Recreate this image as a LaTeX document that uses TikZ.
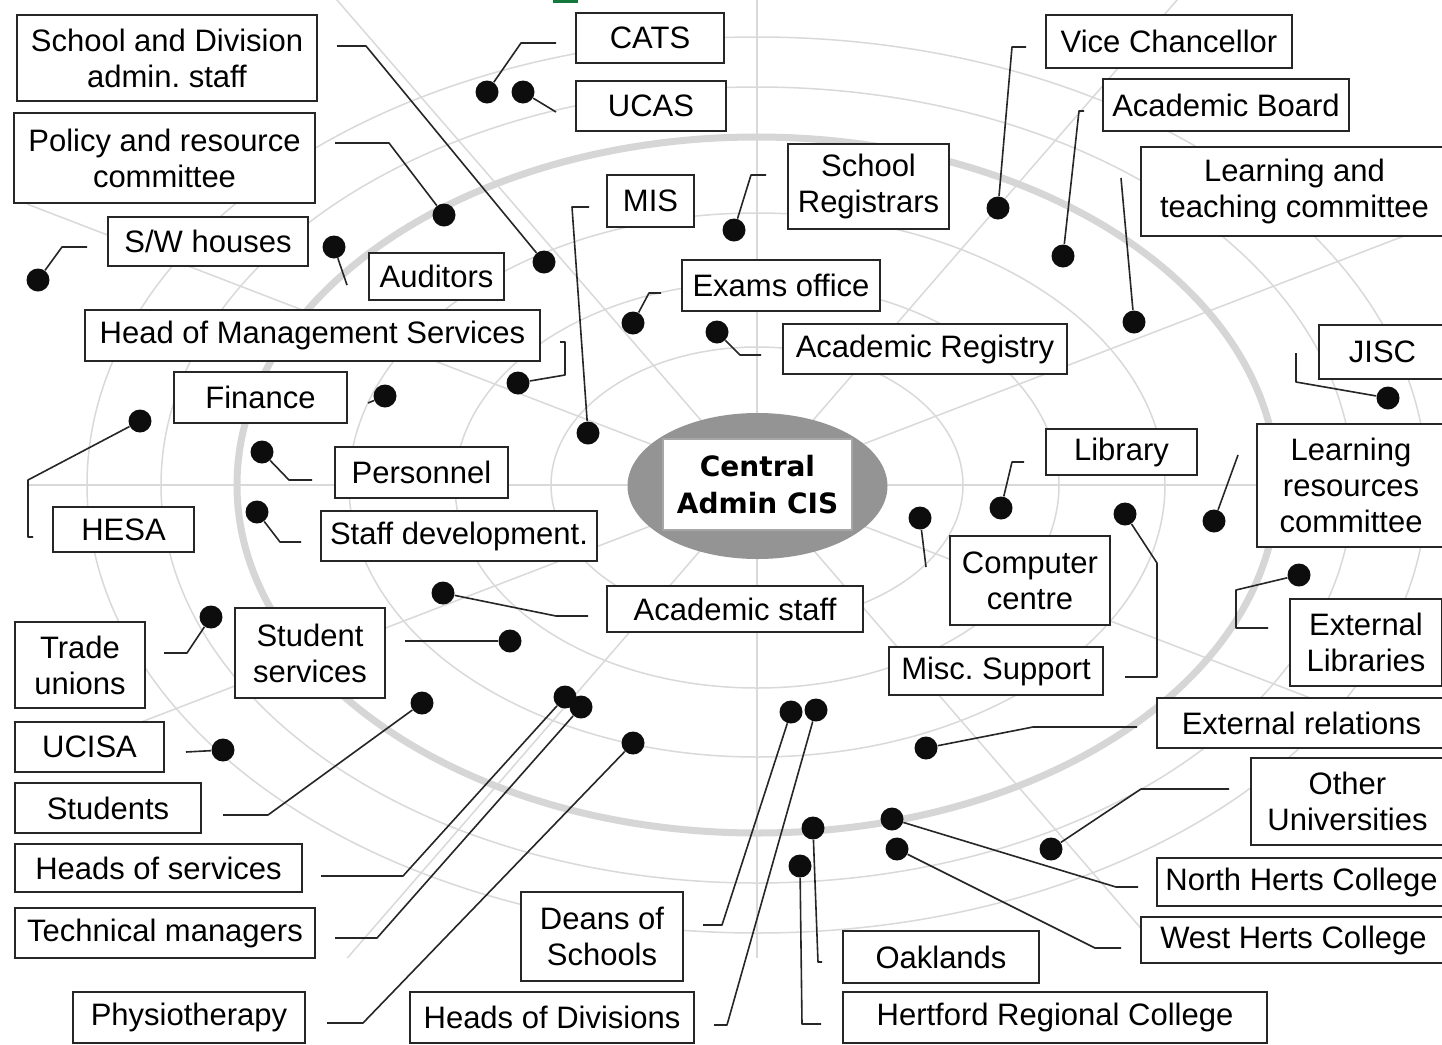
\documentclass[tikz,border=0pt]{standalone}
\usepackage{fontspec}
\setmainfont{Liberation Sans}
\newfontfamily\cisfont{DejaVu Sans}
\usetikzlibrary{shapes.geometric}
\frenchspacing
\definecolor{bgline}{gray}{0.85}
\definecolor{thickring}{gray}{0.84}
\definecolor{conn}{gray}{0.15}
\definecolor{greenmark}{RGB}{20,120,60}
\tikzset{
  bx/.style={draw=black!85, line width=1pt, fill=white, inner sep=0pt, align=center,
             font=\fontsize{15.5}{18}\selectfont},
  dotn/.style={circle, fill=black!95, inner sep=0pt, minimum size=11.5pt},
  conline/.style={draw=conn, line width=0.8pt, line join=round},
  ring/.style={draw=bgline, line width=0.75pt},
  thickrim/.style={draw=thickring, line width=3.5pt},
  radial/.style={draw=bgline, line width=0.75pt},
}
\newcommand\B[6]{\node[bx, minimum width={(#4-#2)*0.5pt}, minimum height={(#5-#3)*0.5pt}] (#1) at ({(#2+#4)/2},{(#3+#5)/2}) {#6};}
\newcommand\D[3]{\node[dotn] (#1) at (#2,#3) {};}
\begin{document}
\begin{tikzpicture}[x=0.5pt,y=-0.5pt]
\useasboundingbox (0,0) rectangle (1442,1045);
\clip (0,0) rectangle (1442,1045);
\fill[white] (0,0) rectangle (1442,1045);
% background target
\begin{scope}
  \clip (27,0) rectangle (1442,957);
  \foreach \a in {0,30,...,330}
    \draw[radial] (757,485) -- ++({1200*cos(\a)},{800*sin(\a)});
  \foreach \rx/\ry in {206/138, 302/203, 408/272, 596/398, 670/448}
    \draw[ring] (757,485) ellipse [x radius=\rx, y radius=\ry];
  \draw[thickrim] (757,485) ellipse [x radius=520, y radius=348];
\end{scope}
\fill[greenmark] (553,0) rectangle (578,3);
% centre
\node[ellipse, fill=black!42, inner sep=0pt, minimum width=130pt, minimum height=73pt] (core) at (757.5,486) {};
\node[draw=black!35, line width=0.6pt, fill=white, inner sep=0pt, minimum width=94.5pt, minimum height=45.5pt,
      align=center, font=\cisfont\bfseries\fontsize{14}{18.5}\selectfont] (cis) at (757.5,484.5) {Central\\Admin CIS};
% boxes
\B{SDA}{17}{15}{317}{101}{School and Division\\admin. staff}
\B{PRC}{14}{113}{315}{203}{Policy and resource\\committee}
\B{SW}{108}{217}{308}{266}{S/W houses}
\B{AUD}{369}{253}{504}{300}{Auditors}
\B{HMS}{85}{310}{540}{361}{Head of Management Services}
\B{FIN}{174}{372}{347}{423}{Finance}
\B{PER}{335}{447}{508}{498}{Personnel}
\B{HESA}{53}{507}{194}{552}{HESA}
\B{SD}{321}{511}{597}{561}{Staff development.}
\B{CATS}{576}{13}{724}{63}{CATS}
\B{UCAS}{576}{81}{726}{131}{UCAS}
\B{MIS}{607}{175}{694}{227}{MIS}
\B{SR}{788}{144}{949}{229}{School\\Registrars}
\B{EO}{682}{260}{880}{311}{Exams office}
\B{AR}{783}{324}{1067}{374}{Academic Registry}
\B{VC}{1046}{15}{1292}{68}{Vice Chancellor}
\B{AB}{1103}{79}{1349}{131}{Academic Board}
\B{LT}{1141}{147}{1448}{236}{Learning and\\teaching committee}
\B{JISC}{1319}{325}{1446}{379}{JISC}
\B{LIB}{1046}{429}{1197}{475}{Library}
\B{LRC}{1257}{424}{1445}{547}{Learning\\resources\\committee}
\B{CC}{950}{536}{1110}{625}{Computer\\centre}
\B{AS}{607}{586}{863}{632}{Academic staff}
\B{MS}{889}{647}{1103}{695}{Misc. Support}
\B{EL}{1290}{599}{1442}{686}{External\\Libraries}
\B{ER}{1157}{698}{1446}{748}{External relations}
\B{OU}{1251}{758}{1444}{845}{Other\\Universities}
\B{NH}{1157}{858}{1446}{906}{North Herts College}
\B{WH}{1141}{917}{1446}{963}{West Herts College}
\B{OAK}{843}{931}{1039}{983}{Oaklands}
\B{HRC}{843}{992}{1267}{1043}{Hertford Regional College}
\B{TU}{15}{622}{145}{708}{Trade\\unions}
\B{SS}{235}{608}{385}{698}{Student\\services}
\B{UCISA}{15}{722}{164}{772}{UCISA}
\B{STU}{15}{783}{201}{833}{Students}
\B{HOS}{15}{844}{302}{892}{Heads of services}
\B{TM}{15}{908}{315}{958}{Technical managers}
\B{PHY}{73}{992}{305}{1043}{Physiotherapy}
\B{DS}{521}{892}{683}{981}{Deans of\\Schools}
\B{HOD}{410}{992}{694}{1043}{Heads of Divisions}
% dots
\D{dSDA}{544}{262}
\D{dPRC}{444}{215}
\D{dSW}{38}{280}
\D{dAUD}{334}{247}
\D{dHMS}{518}{383}
\D{dFIN}{385}{396}
\D{dHESA}{140}{421}
\D{dPER}{262}{452}
\D{dSD}{257}{512}
\D{dCATS}{487}{92}
\D{dUCAS}{523}{92}
\D{dMIS}{588}{433}
\D{dEO}{633}{323}
\D{dAR}{717}{332}
\D{dSR}{734}{230}
\D{dVC}{998}{208}
\D{dAB}{1063}{256}
\D{dLT}{1134}{322}
\D{dJISC}{1388}{398}
\D{dLIB}{1001}{508}
\D{dLRC}{1214}{521}
\D{dCC}{920}{518}
\D{dMS}{1125}{514}
\D{dEL}{1299}{575}
\D{dER}{926}{748}
\D{dOU}{1051}{849}
\D{dNH}{892}{819}
\D{dWH}{897}{849}
\D{dOAK}{813}{828}
\D{dHRC}{800}{866}
\D{dDS}{791}{712}
\D{dHOD}{816}{710}
\D{dAS}{443}{593}
\D{dTU}{211}{617}
\D{dSS}{510}{641}
\D{dUCISA}{223}{750}
\D{dSTU}{422}{703}
\D{dHOS}{565}{697}
\D{dTM}{581}{707}
\D{dPHY}{633}{743}
% free ends of connectors
\coordinate (eSDA) at (337,46);
\coordinate (ePRC) at (335,143);
\coordinate (eSW) at (87,247);
\coordinate (eAUD) at (347,285);
\coordinate (eHMS) at (560,342);
\coordinate (eFIN) at (368,403);
\coordinate (eHESA) at (33,537);
\coordinate (ePER) at (312,480);
\coordinate (eSD) at (301,542);
\coordinate (eCATS) at (556,43);
\coordinate (eUCAS) at (556,112);
\coordinate (eMIS) at (589,207);
\coordinate (eEO) at (661,293);
\coordinate (eAR) at (761,355);
\coordinate (eSR) at (766,175);
\coordinate (eVC) at (1026,47);
\coordinate (eAB) at (1084,111);
\coordinate (eLT) at (1121,178);
\coordinate (eJISC) at (1296,353);
\coordinate (eLIB) at (1024,462);
\coordinate (eLRC) at (1238,455);
\coordinate (eCC) at (926,567);
\coordinate (eMS) at (1125,677);
\coordinate (eEL) at (1268,628);
\coordinate (eER) at (1137,727);
\coordinate (eOU) at (1229,789);
\coordinate (eNH) at (1138,887);
\coordinate (eWH) at (1121,948);
\coordinate (eOAK) at (822,962);
\coordinate (eHRC) at (821,1024);
\coordinate (eDS) at (703,925);
\coordinate (eHOD) at (714,1025);
\coordinate (eAS) at (588,616);
\coordinate (eTU) at (164,653);
\coordinate (eSS) at (405,641);
\coordinate (eUCISA) at (186,752);
\coordinate (eSTU) at (223,815);
\coordinate (eHOS) at (321,876);
\coordinate (eTM) at (335,938);
\coordinate (ePHY) at (327,1023);
% connectors
\draw[conline] (eSDA) -- (366,46) -- (dSDA);
\draw[conline] (ePRC) -- (389,143) -- (dPRC);
\draw[conline] (dSW) -- (62,247) -- (eSW);
\draw[conline] (dAUD) -- (eAUD);
\draw[conline] (dHMS) -- (565,375) -- (565,342) -- (eHMS);
\draw[conline] (dFIN) -- (eFIN);
\draw[conline] (dHESA) -- (28,480) -- (28,537) -- (eHESA);
\draw[conline] (dPER) -- (289,480) -- (ePER);
\draw[conline] (dSD) -- (280,542) -- (eSD);
\draw[conline] (dCATS) -- (521,43) -- (eCATS);
\draw[conline] (dUCAS) -- (eUCAS);
\draw[conline] (dMIS) -- (572,207) -- (eMIS);
\draw[conline] (dEO) -- (649,293) -- (eEO);
\draw[conline] (dAR) -- (740,355) -- (eAR);
\draw[conline] (dSR) -- (751,175) -- (eSR);
\draw[conline] (dVC) -- (1012,47) -- (eVC);
\draw[conline] (dAB) -- (1079,111) -- (eAB);
\draw[conline] (dLT) -- (eLT);
\draw[conline] (dJISC) -- (1296,382) -- (eJISC);
\draw[conline] (dLIB) -- (1012,462) -- (eLIB);
\draw[conline] (dLRC) -- (eLRC);
\draw[conline] (dCC) -- (eCC);
\draw[conline] (dMS) -- (1157,563) -- (1157,677) -- (eMS);
\draw[conline] (dEL) -- (1236,590) -- (1236,628) -- (eEL);
\draw[conline] (dER) -- (1033,727) -- (eER);
\draw[conline] (dOU) -- (1141,789) -- (eOU);
\draw[conline] (dNH) -- (1116,887) -- (eNH);
\draw[conline] (dWH) -- (1095,948) -- (eWH);
\draw[conline] (dOAK) -- (818,962) -- (eOAK);
\draw[conline] (dHRC) -- (802,1024) -- (eHRC);
\draw[conline] (dDS) -- (722,925) -- (eDS);
\draw[conline] (dHOD) -- (727,1025) -- (eHOD);
\draw[conline] (dAS) -- (556,616) -- (eAS);
\draw[conline] (dTU) -- (187,653) -- (eTU);
\draw[conline] (dSS) -- (eSS);
\draw[conline] (dUCISA) -- (eUCISA);
\draw[conline] (dSTU) -- (268,815) -- (eSTU);
\draw[conline] (dHOS) -- (403,876) -- (eHOS);
\draw[conline] (dTM) -- (377,938) -- (eTM);
\draw[conline] (dPHY) -- (363,1023) -- (ePHY);
\end{tikzpicture}
\end{document}
